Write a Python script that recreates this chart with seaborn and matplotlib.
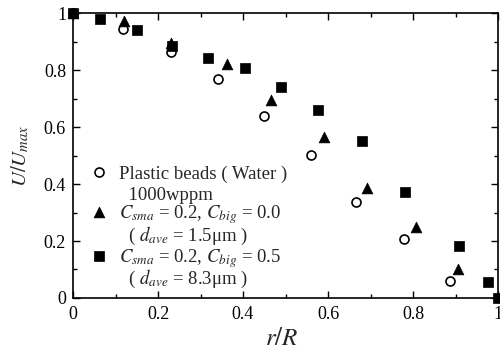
import matplotlib
matplotlib.use("Agg")
import matplotlib.pyplot as plt
import seaborn as sns
from matplotlib.ticker import FixedLocator, MultipleLocator

sns.set_theme(style="ticks")
plt.rcParams['font.family'] = ['Liberation Serif', 'DejaVu Serif']
plt.rcParams['mathtext.fontset'] = 'stix'

# Data
circ_x = [0.0, 0.118, 0.23, 0.34, 0.449, 0.559, 0.667, 0.779, 0.887]
circ_y = [1.0, 0.946, 0.864, 0.770, 0.639, 0.502, 0.338, 0.206, 0.061]
tri_x = [0.0, 0.12, 0.23, 0.362, 0.465, 0.591, 0.691, 0.807, 0.907]
tri_y = [1.0, 0.973, 0.896, 0.823, 0.695, 0.566, 0.388, 0.248, 0.102]
sq_x = [0.0, 0.064, 0.15, 0.232, 0.318, 0.405, 0.489, 0.576, 0.681, 0.782, 0.908, 0.976, 1.0]
sq_y = [1.0, 0.981, 0.943, 0.884, 0.843, 0.808, 0.741, 0.662, 0.55, 0.374, 0.182, 0.056, 0.0]

x_ticks = [0, 0.2, 0.4, 0.6, 0.8, 1.0]
x_ticklabels = ["0", "0.2", "0.4", "0.6", "0.8", "1"]
y_ticks = [0, 0.2, 0.4, 0.6, 0.8, 1.0]
y_ticklabels = ["0", "0.2", "0.4", "0.6", "0.8", "1"]

labels = [
    "Plastic beads ( Water )\n  1000wppm",
    "$C_{sma}$ = 0.2, $C_{big}$ = 0.0\n  ( $d_{ave}$ = 1.5μm )",
    "$C_{sma}$ = 0.2, $C_{big}$ = 0.5\n  ( $d_{ave}$ = 8.3μm )",
]

fig = plt.figure(figsize=(5.0, 3.53), dpi=100)
ax = fig.add_axes([0.146, 0.156, 0.85, 0.806])

sns.scatterplot(x=circ_x, y=circ_y, marker='o', s=42, facecolor='white',
                edgecolor='black', linewidth=1.2, ax=ax, clip_on=False, zorder=3)
sns.scatterplot(x=tri_x, y=tri_y, marker='^', s=60, color='black',
                edgecolor='black', linewidth=0.5, ax=ax, clip_on=False, zorder=4)
sns.scatterplot(x=sq_x, y=sq_y, marker='s', s=52, color='black',
                edgecolor='black', linewidth=0.5, ax=ax, clip_on=False, zorder=5)

ax.set_xlim(0, 1)
ax.set_ylim(0, 1)
ax.xaxis.set_major_locator(FixedLocator(x_ticks))
ax.set_xticklabels(x_ticklabels)
ax.yaxis.set_major_locator(FixedLocator(y_ticks))
ax.set_yticklabels(y_ticklabels)
ax.xaxis.set_minor_locator(MultipleLocator(0.1))
ax.yaxis.set_minor_locator(MultipleLocator(0.1))
ax.tick_params(which='both', direction='in', top=True, right=True,
               color='black', width=1.0)
ax.tick_params(which='major', length=5, labelsize=13, colors='black')
ax.tick_params(axis='x', which='major', pad=6)
ax.tick_params(axis='y', which='major', pad=5)
ax.tick_params(which='minor', length=3)
for sp in ax.spines.values():
    sp.set_visible(True)
    sp.set_color('black')
    sp.set_linewidth(1.2)

ax.set_xlabel(r"$r/R$", fontsize=18)
ax.xaxis.set_label_coords(0.49, -0.105)
ax.set_ylabel(r"$U/U_{max}$", fontsize=15)
ax.yaxis.set_label_coords(-0.097, 0.5)

handles = list(ax.collections[:3])
leg = ax.legend(handles, labels, loc='upper left', bbox_to_anchor=(0.025, 0.49),
                frameon=False, fontsize=13.5, handlelength=0.8, handletextpad=0.7,
                labelspacing=0.0, borderaxespad=0,
                scatterpoints=1, scatteryoffsets=[1.5])
texts = leg.get_texts()
texts[0].set_linespacing(1.25)
for t in texts[1:]:
    t.set_linespacing(0.9)

fig.savefig("out.png", dpi=100)
